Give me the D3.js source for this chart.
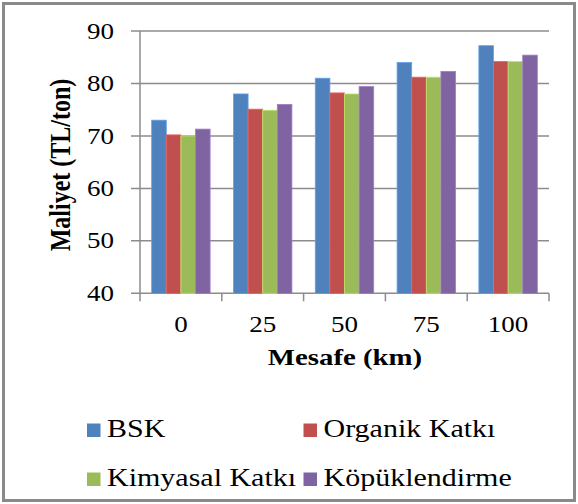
<!DOCTYPE html>
<html>
<head>
<meta charset="utf-8">
<script src="https://cdn.jsdelivr.net/npm/d3@7"></script>
<style>
  html, body { margin: 0; padding: 0; background: #fff; }
  text { font-family: "Liberation Serif", "Times New Roman", Times, serif; }
</style>
</head>
<body>
<svg id="chart" width="578" height="504"></svg>
<script>
// Transport distance categories (km)
const distances = ["0", "25", "50", "75", "100"];
// Series names
const seriesNames = ["BSK", "Organik Katkı", "Kimyasal Katkı", "Köpüklendirme"];
// Cost values (TL/ton) per series, one value per distance
const bskValues       = [73.0, 78.0, 81.0, 84.0, 87.2];
const organikValues   = [70.2, 75.1, 78.2, 81.2, 84.2];
const kimyasalValues  = [70.0, 74.9, 78.0, 81.2, 84.2];
const kopukValues     = [71.3, 76.0, 79.4, 82.3, 85.4];
const yTicks = [40, 50, 60, 70, 80, 90];

const seriesValues = [bskValues, organikValues, kimyasalValues, kopukValues];
const colors = ["#4F81BD", "#C0504D", "#9BBB59", "#8064A2"];
const sx = 1.2; // horizontal text stretch
const FONT = "'Liberation Serif', 'Times New Roman', Times, serif";

const svg = d3.select("#chart");

// Outer frame
svg.append("rect")
  .attr("x", 3.5).attr("y", 3.5).attr("width", 571).attr("height", 497)
  .attr("fill", "#fff").attr("stroke", "#8a8a8a").attr("stroke-width", 3);

const plot = { left: 140, right: 549, top: 31, bottom: 293.3 };

const x0 = d3.scaleBand().domain(distances).range([plot.left, plot.right]).padding(0);
const x1 = d3.scaleBand().domain(d3.range(seriesNames.length))
  .range([0, x0.bandwidth()]).paddingInner(0).paddingOuter(0.8);
const y = d3.scaleLinear().domain([40, 90]).range([plot.bottom, plot.top]);

// Gridlines (extend left as tick marks)
svg.append("g").selectAll("line").data(yTicks).join("line")
  .attr("x1", plot.left - 9).attr("x2", plot.right)
  .attr("y1", d => y(d)).attr("y2", d => y(d))
  .attr("stroke", "#8c8c8c").attr("stroke-width", 1.5);

// Y axis line
svg.append("line")
  .attr("x1", plot.left).attr("x2", plot.left)
  .attr("y1", y(90)).attr("y2", plot.bottom)
  .attr("stroke", "#8c8c8c").attr("stroke-width", 1.5);

// X-axis tick marks at category boundaries
const bounds = distances.map(d => x0(d)).concat([plot.right]);
svg.append("g").selectAll("line").data(bounds).join("line")
  .attr("x1", d => d).attr("x2", d => d)
  .attr("y1", plot.bottom).attr("y2", plot.bottom + 8)
  .attr("stroke", "#8c8c8c").attr("stroke-width", 1.5);

// Bars
const groups = svg.append("g").selectAll("g").data(distances).join("g")
  .attr("transform", d => `translate(${x0(d)},0)`);
groups.selectAll("rect")
  .data((d, i) => seriesValues.map((vals, s) => ({ s, v: vals[i] })))
  .join("rect")
  .attr("x", d => x1(d.s))
  .attr("width", x1.bandwidth())
  .attr("y", d => y(d.v))
  .attr("height", d => plot.bottom - y(d.v))
  .attr("fill", d => colors[d.s])
  .attr("stroke", d => d3.color(colors[d.s]).brighter(0.6))
  .attr("stroke-width", 0.8);

// Stretched text helper
function label(g, x, yPos, text, size, opts = {}) {
  const t = g.append("text")
    .attr("transform", `translate(${x},${yPos}) scale(${sx},1)` + (opts.rotate ? ` rotate(${opts.rotate})` : ""))
    .attr("text-anchor", opts.anchor || "start")
    .attr("font-family", FONT)
    .attr("font-size", size)
    .attr("font-weight", opts.bold ? "bold" : "normal")
    .attr("fill", "#000")
    .text(text);
  if (opts.dy) t.attr("dy", opts.dy);
  return t;
}

// Y tick labels
yTicks.forEach(v => label(svg, 114, y(v), String(v), 22.5, { anchor: "end", dy: "0.34em" }));

// X tick labels
distances.forEach(d => label(svg, x0(d) + x0.bandwidth() / 2, 332, d, 22.5, { anchor: "middle" }));

// Axis titles
label(svg, 345, 365, "Mesafe (km)", 24, { anchor: "middle", bold: true });
label(svg, 70, 165, "Maliyet (TL/ton)", 24, { anchor: "middle", bold: true, rotate: -90 });

// Legend
const legendPos = [
  { x: 87, y: 437 }, { x: 303.5, y: 437 },
  { x: 87, y: 486 }, { x: 303.5, y: 486 }
];
seriesNames.forEach((name, i) => {
  const p = legendPos[i];
  svg.append("rect")
    .attr("x", p.x).attr("y", p.y - 13.5).attr("width", 13.5).attr("height", 13.5)
    .attr("fill", colors[i]);
  label(svg, p.x + 20, p.y, name, 25);
});
</script>
</body>
</html>
